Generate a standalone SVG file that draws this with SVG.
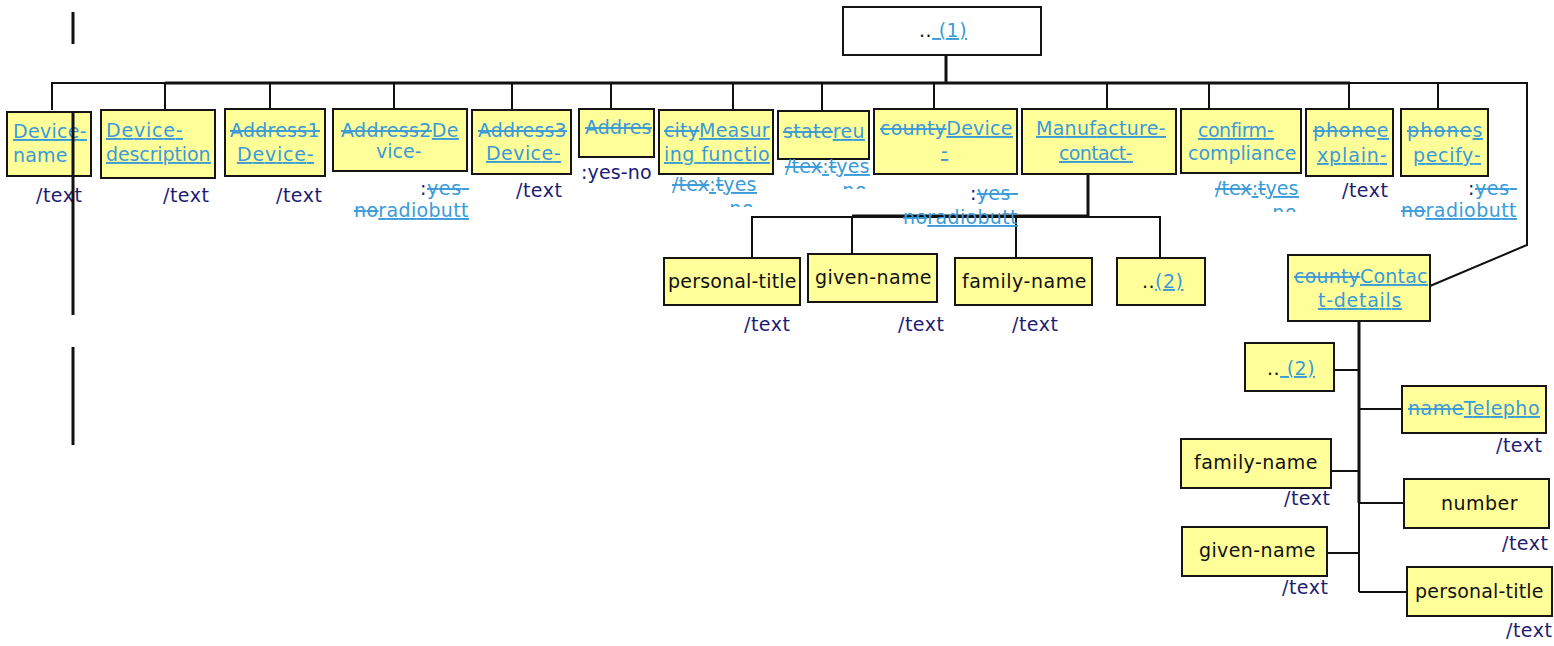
<svg xmlns="http://www.w3.org/2000/svg" width="1554" height="646" viewBox="0 0 1554 646">
<style>
.box{fill:#ffff99;stroke:#151515;stroke-width:2}
.wbox{fill:#fff;stroke:#151515;stroke-width:2}
text{font-family:"DejaVu Sans",Verdana,sans-serif;font-size:19px;letter-spacing:0.5px}
.lk{fill:#3a9bd8;text-decoration:underline;text-decoration-thickness:3px}
.st{fill:#3a9bd8;text-decoration:line-through;text-decoration-thickness:3px}
.bl{fill:#3a9bd8}
.nv{fill:#1c1c73}
.bk{fill:#111}
.c{stroke:#111;stroke-width:2;fill:none}
.ck{stroke:#111;stroke-width:3;fill:none}
</style>
<defs>
<clipPath id="clCity"><rect x="650" y="195" width="130" height="12"/></clipPath>
<clipPath id="clState"><rect x="770" y="178" width="110" height="11"/></clipPath>
<clipPath id="clConf"><rect x="1200" y="200" width="110" height="12"/></clipPath>
</defs>

<g id="connectors">
<line class="ck" x1="73" y1="12" x2="73" y2="44"/>
<line class="ck" x1="73" y1="347" x2="73" y2="445"/>
<line class="ck" x1="946" y1="55" x2="946" y2="83"/>
<polyline class="c" points="52,110 52,83 165,83"/>
<line class="ck" x1="165" y1="83" x2="1350" y2="83"/>
<polyline class="c" points="1350,83 1527,83 1527,245 1430,286"/>
<line class="c" x1="165" y1="83" x2="165" y2="110"/>
<line class="c" x1="270" y1="83" x2="270" y2="109"/>
<line class="c" x1="394" y1="83" x2="394" y2="109"/>
<line class="c" x1="512" y1="83" x2="512" y2="110"/>
<line class="c" x1="611" y1="83" x2="611" y2="109"/>
<line class="c" x1="733" y1="83" x2="733" y2="110"/>
<line class="c" x1="822" y1="83" x2="822" y2="111"/>
<line class="c" x1="934" y1="83" x2="934" y2="109"/>
<line class="c" x1="1107" y1="83" x2="1107" y2="109"/>
<line class="c" x1="1209" y1="83" x2="1209" y2="109"/>
<line class="c" x1="1349" y1="83" x2="1349" y2="109"/>
<line class="c" x1="1438" y1="83" x2="1438" y2="109"/>
<line class="ck" x1="1088" y1="175" x2="1088" y2="216"/>
<line class="ck" x1="852" y1="216" x2="1088" y2="216"/>
<polyline class="c" points="752,258 752,217 1160,217 1160,258"/>
<line class="c" x1="852" y1="216" x2="852" y2="254"/>
<line class="c" x1="1016" y1="217" x2="1016" y2="258"/>
<line class="ck" x1="1359" y1="321" x2="1359" y2="503"/>
<line class="c" x1="1359" y1="503" x2="1359" y2="592"/>
<line class="c" x1="1334" y1="370" x2="1359" y2="370"/>
<line class="c" x1="1359" y1="409" x2="1402" y2="409"/>
<line class="c" x1="1331" y1="471" x2="1359" y2="471"/>
<line class="c" x1="1359" y1="503" x2="1404" y2="503"/>
<line class="c" x1="1327" y1="553" x2="1359" y2="553"/>
<line class="c" x1="1359" y1="592" x2="1407" y2="592"/>
</g>

<g id="root">
<rect class="wbox" x="843" y="7" width="198" height="48"/>
<text x="919" y="37"><tspan class="bk">..</tspan><tspan class="lk"> (1)</tspan></text>
</g>

<g id="device-name">
<rect class="box" x="7" y="112" width="84" height="64"/>
<text class="lk" x="13" y="138" textLength="74" lengthAdjust="spacing">Device-</text>
<text class="bl" x="13" y="162" textLength="55" lengthAdjust="spacing">name</text>
<text class="nv" x="36" y="202">/text</text>
</g>
<line class="ck" x1="73" y1="112" x2="73" y2="315"/>

<g id="device-description">
<rect class="box" x="101" y="110" width="114" height="68"/>
<text class="lk" x="106" y="137" textLength="77" lengthAdjust="spacing">Device-</text>
<text class="lk" x="106" y="161" textLength="105" lengthAdjust="spacing">description</text>
<text class="nv" x="163" y="202">/text</text>
</g>

<g id="address1">
<rect class="box" x="225" y="109" width="100" height="67"/>
<text class="st" x="230" y="137" textLength="90" lengthAdjust="spacing">Address1</text>
<text class="lk" x="237" y="161" textLength="77" lengthAdjust="spacing">Device-</text>
<text class="nv" x="276" y="202">/text</text>
</g>

<g id="address2">
<rect class="box" x="333" y="109" width="134" height="62"/>
<text x="341" y="137" textLength="118" lengthAdjust="spacing"><tspan class="st">Address2</tspan><tspan class="lk">De</tspan></text>
<text class="bl" x="376" y="158" textLength="46" lengthAdjust="spacing">vice-</text>
<text x="420" y="195" textLength="49" lengthAdjust="spacing"><tspan class="nv">:</tspan><tspan class="st">yes-</tspan></text>
<text x="354" y="217" textLength="115" lengthAdjust="spacing"><tspan class="st">no</tspan><tspan class="lk">radiobutt</tspan></text>
</g>

<g id="address3">
<rect class="box" x="472" y="110" width="99" height="64"/>
<text class="st" x="478" y="137" textLength="89" lengthAdjust="spacing">Address3</text>
<text class="lk" x="486" y="160" textLength="75" lengthAdjust="spacing">Device-</text>
<text class="nv" x="516" y="197">/text</text>
</g>

<g id="address4">
<rect class="box" x="579" y="109" width="75" height="48"/>
<text class="st" x="585" y="134" textLength="67" lengthAdjust="spacing">Addres</text>
<text class="nv" x="581" y="179" textLength="71" lengthAdjust="spacing">:yes-no</text>
</g>

<g id="city">
<rect class="box" x="659" y="110" width="114" height="64"/>
<text x="664" y="137" textLength="106" lengthAdjust="spacing"><tspan class="st">city</tspan><tspan class="lk">Measur</tspan></text>
<text class="lk" x="664" y="161" textLength="106" lengthAdjust="spacing">ing  functio</text>
<text x="672" y="191" textLength="85" lengthAdjust="spacing"><tspan class="st">/tex</tspan><tspan class="lk">:</tspan><tspan class="st">t</tspan><tspan class="lk">yes</tspan></text>
<text class="bl" x="722" y="215" clip-path="url(#clCity)">-no</text>
</g>

<g id="state">
<rect class="box" x="778" y="111" width="91" height="48"/>
<text x="783" y="138" textLength="82" lengthAdjust="spacing"><tspan class="st">state</tspan><tspan class="lk">reu</tspan></text>
<text x="785" y="173" textLength="85" lengthAdjust="spacing"><tspan class="st">/tex</tspan><tspan class="lk">:</tspan><tspan class="st">t</tspan><tspan class="lk">yes</tspan></text>
<text class="bl" x="835" y="197" clip-path="url(#clState)">-no</text>
</g>

<g id="county">
<rect class="box" x="874" y="109" width="143" height="65"/>
<text x="880" y="135" textLength="133" lengthAdjust="spacing"><tspan class="st">county</tspan><tspan class="lk">Device</tspan></text>
<text class="lk" x="941" y="158">-</text>
<text x="970" y="200" textLength="48" lengthAdjust="spacing"><tspan class="nv">:</tspan><tspan class="st">yes-</tspan></text>
<text x="903" y="224" textLength="115" lengthAdjust="spacing"><tspan class="st">no</tspan><tspan class="lk">radiobutt</tspan></text>
</g>

<g id="manufacture-contact">
<rect class="box" x="1022" y="109" width="154" height="65"/>
<text class="lk" x="1036" y="135" textLength="130" lengthAdjust="spacing">Manufacture-</text>
<text class="lk" x="1059" y="160" textLength="74" lengthAdjust="spacing">contact-</text>
</g>

<g id="confirm-compliance">
<rect class="box" x="1181" y="109" width="120" height="64"/>
<text class="lk" x="1198" y="137" textLength="76" lengthAdjust="spacing">confirm-</text>
<text class="bl" x="1188" y="160" textLength="109" lengthAdjust="spacing">compliance</text>
<text x="1215" y="195" textLength="84" lengthAdjust="spacing"><tspan class="st">/tex</tspan><tspan class="lk">:</tspan><tspan class="st">t</tspan><tspan class="lk">yes</tspan></text>
<text class="bl" x="1265" y="219" clip-path="url(#clConf)">-no</text>
</g>

<g id="phone-explain">
<rect class="box" x="1306" y="109" width="87" height="67"/>
<text x="1313" y="137" textLength="76" lengthAdjust="spacing"><tspan class="st">phone</tspan><tspan class="lk">e</tspan></text>
<text class="lk" x="1317" y="162" textLength="70" lengthAdjust="spacing">xplain-</text>
<text class="nv" x="1342" y="197">/text</text>
</g>

<g id="phone-specify">
<rect class="box" x="1401" y="109" width="87" height="67"/>
<text x="1407" y="137" textLength="76" lengthAdjust="spacing"><tspan class="st">phone</tspan><tspan class="lk">s</tspan></text>
<text class="lk" x="1413" y="162" textLength="68" lengthAdjust="spacing">pecify-</text>
<text x="1468" y="195" textLength="49" lengthAdjust="spacing"><tspan class="nv">:</tspan><tspan class="st">yes-</tspan></text>
<text x="1401" y="217" textLength="116" lengthAdjust="spacing"><tspan class="st">no</tspan><tspan class="lk">radiobutt</tspan></text>
</g>

<g id="mc-personal-title">
<rect class="box" x="664" y="258" width="136" height="47"/>
<text class="bk" x="668" y="288" textLength="129" lengthAdjust="spacing">personal-title</text>
<text class="nv" x="744" y="331">/text</text>
</g>
<g id="mc-given-name">
<rect class="box" x="808" y="254" width="129" height="48"/>
<text class="bk" x="815" y="284" textLength="117" lengthAdjust="spacing">given-name</text>
<text class="nv" x="898" y="331">/text</text>
</g>
<g id="mc-family-name">
<rect class="box" x="955" y="258" width="137" height="47"/>
<text class="bk" x="962" y="288" textLength="125" lengthAdjust="spacing">family-name</text>
<text class="nv" x="1012" y="331">/text</text>
</g>
<g id="mc-more">
<rect class="box" x="1117" y="258" width="88" height="47"/>
<text x="1142" y="288"><tspan class="bk">..</tspan><tspan class="lk">(2)</tspan></text>
</g>

<g id="contact-details">
<rect class="box" x="1288" y="255" width="142" height="66"/>
<text x="1294" y="283" textLength="134" lengthAdjust="spacing"><tspan class="st">county</tspan><tspan class="lk">Contac</tspan></text>
<text class="lk" x="1318" y="307" textLength="84" lengthAdjust="spacing">t-details</text>
</g>
<g id="cd-more">
<rect class="box" x="1245" y="343" width="89" height="48"/>
<text x="1267" y="375"><tspan class="bk">..</tspan><tspan class="lk"> (2)</tspan></text>
</g>
<g id="cd-telephone">
<rect class="box" x="1402" y="386" width="144" height="47"/>
<text x="1408" y="415" textLength="132" lengthAdjust="spacing"><tspan class="st">name</tspan><tspan class="lk">Telepho</tspan></text>
<text class="nv" x="1496" y="452">/text</text>
</g>
<g id="cd-family-name">
<rect class="box" x="1181" y="439" width="150" height="49"/>
<text class="bk" x="1194" y="469" textLength="124" lengthAdjust="spacing">family-name</text>
<text class="nv" x="1284" y="505">/text</text>
</g>
<g id="cd-number">
<rect class="box" x="1404" y="479" width="145" height="49"/>
<text class="bk" x="1441" y="510" textLength="77" lengthAdjust="spacing">number</text>
<text class="nv" x="1502" y="550">/text</text>
</g>
<g id="cd-given-name">
<rect class="box" x="1182" y="527" width="145" height="49"/>
<text class="bk" x="1199" y="557" textLength="117" lengthAdjust="spacing">given-name</text>
<text class="nv" x="1282" y="594">/text</text>
</g>
<g id="cd-personal-title">
<rect class="box" x="1407" y="567" width="145" height="49"/>
<text class="bk" x="1415" y="598" textLength="129" lengthAdjust="spacing">personal-title</text>
<text class="nv" x="1506" y="637">/text</text>
</g>
</svg>
